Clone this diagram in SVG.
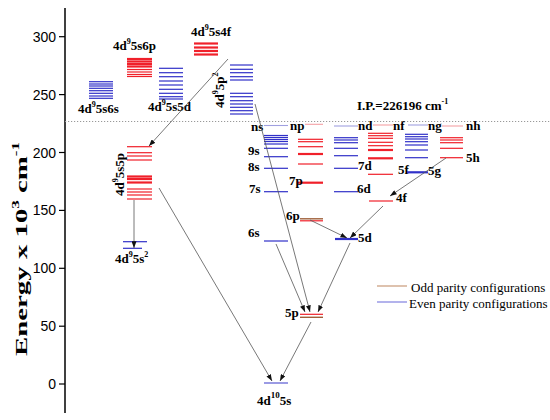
<svg xmlns="http://www.w3.org/2000/svg" width="550" height="420" viewBox="0 0 550 420">
<defs>
<marker id="ah" viewBox="0 0 8 6" refX="8" refY="3" markerWidth="7" markerHeight="5" markerUnits="userSpaceOnUse" orient="auto">
<path d="M0,0 L8,3 L0,6 Z" fill="#111"/>
</marker>
<style>
.lbl{font-family:"Liberation Serif",serif;font-weight:bold;font-size:13px;fill:#000}
.tick{font-family:"Liberation Sans",Arial,sans-serif;font-size:14px;fill:#000}
.leg{font-family:"Liberation Serif",serif;font-size:13px;fill:#000}
.r{stroke:#f0202a;stroke-width:1.2}
.rt{stroke:#f0202a;stroke-width:2.2}
.rl{stroke:#f4a0a4;stroke-width:1.1}
.b{stroke:#3030c8;stroke-width:1.2}
.bt{stroke:#3030c8;stroke-width:2.2}
.bl{stroke:#a0a0e0;stroke-width:1.1}
.br{stroke:#a0603a;stroke-width:1.4}
.con{stroke:#555;stroke-width:0.8;fill:none;marker-end:url(#ah)}
</style>
</defs>
<rect width="550" height="420" fill="#fff"/>

<g id="axis">
<line x1="65" y1="8" x2="65" y2="413" stroke="#000" stroke-width="1.5"/>
<g stroke="#000" stroke-width="1.2">
<line x1="59" y1="36.7" x2="65" y2="36.7"/><line x1="59" y1="94.6" x2="65" y2="94.6"/>
<line x1="59" y1="152.5" x2="65" y2="152.5"/><line x1="59" y1="210.4" x2="65" y2="210.4"/>
<line x1="59" y1="268.3" x2="65" y2="268.3"/><line x1="59" y1="326.2" x2="65" y2="326.2"/>
<line x1="59" y1="384" x2="65" y2="384"/>
</g>
<g class="tick" text-anchor="end">
<text x="56" y="41.7">300</text><text x="56" y="99.6">250</text><text x="56" y="157.5">200</text>
<text x="56" y="215.4">150</text><text x="56" y="273.3">100</text><text x="56" y="331.2">50</text>
<text x="56" y="389">0</text>
</g>
<text transform="translate(27,356) rotate(-90)" font-family="Liberation Serif,serif" font-weight="bold" font-size="17" textLength="214" lengthAdjust="spacingAndGlyphs">Energy x 10<tspan dy="-8" font-size="10">3</tspan><tspan dy="8"> cm</tspan><tspan dy="-8" font-size="10">-1</tspan></text>
</g>

<g id="ip">
<line x1="65" y1="121.5" x2="550" y2="121.5" stroke="#999" stroke-width="1" stroke-dasharray="1.2,1.8"/>
<text class="lbl" x="357" y="110" font-size="14">I.P.=226196 cm<tspan dy="-6" font-size="8">-1</tspan></text>
</g>

<g id="c4d9-5s6s">
<g class="b"><line x1="89" y1="81.7" x2="113" y2="81.7"/><line x1="89" y1="84" x2="113" y2="84"/><line x1="89" y1="86" x2="113" y2="86"/><line x1="89" y1="88.3" x2="113" y2="88.3"/><line x1="89" y1="90.7" x2="113" y2="90.7"/><line x1="89" y1="93.3" x2="113" y2="93.3"/><line x1="89" y1="96" x2="113" y2="96"/><line x1="89" y1="98.3" x2="113" y2="98.3"/></g>
<text class="lbl" x="78" y="113">4d<tspan dy="-6" font-size="8">9</tspan><tspan dy="6">5s6s</tspan></text>
</g>

<g id="c4d9-5s6p">
<g class="rt"><line x1="127" y1="59" x2="152" y2="59"/><line x1="127" y1="61.5" x2="152" y2="61.5"/><line x1="127" y1="64" x2="152" y2="64"/><line x1="127" y1="66.5" x2="152" y2="66.5"/></g>
<g class="r"><line x1="127" y1="69.5" x2="152" y2="69.5"/><line x1="127" y1="72" x2="152" y2="72"/><line x1="127" y1="74.5" x2="152" y2="74.5"/><line x1="127" y1="76.5" x2="152" y2="76.5"/></g>
<text class="lbl" x="113" y="50">4d<tspan dy="-6" font-size="8">9</tspan><tspan dy="6">5s6p</tspan></text>
</g>

<g id="c4d9-5s5d">
<g class="b"><line x1="159" y1="68.3" x2="183" y2="68.3"/><line x1="159" y1="72.7" x2="183" y2="72.7"/><line x1="159" y1="76.7" x2="183" y2="76.7"/><line x1="159" y1="81" x2="183" y2="81"/><line x1="159" y1="85" x2="183" y2="85"/><line x1="159" y1="89.3" x2="183" y2="89.3"/><line x1="159" y1="93.3" x2="183" y2="93.3"/><line x1="159" y1="96.7" x2="183" y2="96.7"/><line x1="159" y1="99" x2="183" y2="99"/></g>
<text class="lbl" x="148" y="111">4d<tspan dy="-6" font-size="8">9</tspan><tspan dy="6">5s5d</tspan></text>
</g>

<g id="c4d9-5s4f">
<g class="rt"><line x1="194" y1="43.5" x2="218" y2="43.5"/><line x1="194" y1="47.5" x2="218" y2="47.5"/><line x1="194" y1="51" x2="218" y2="51"/><line x1="194" y1="54.5" x2="218" y2="54.5"/></g>
<text class="lbl" x="191" y="36">4d<tspan dy="-6" font-size="8">9</tspan><tspan dy="6">5s4f</tspan></text>
</g>

<g id="c4d9-5p2">
<g class="b"><line x1="230" y1="65" x2="253" y2="65"/><line x1="230" y1="69.3" x2="253" y2="69.3"/><line x1="230" y1="72.7" x2="253" y2="72.7"/><line x1="230" y1="76.7" x2="253" y2="76.7"/><line x1="230" y1="80" x2="253" y2="80"/>
<line x1="230" y1="93.3" x2="253" y2="93.3"/><line x1="230" y1="96.7" x2="253" y2="96.7"/><line x1="230" y1="100.7" x2="253" y2="100.7"/><line x1="230" y1="104" x2="253" y2="104"/><line x1="230" y1="107.3" x2="253" y2="107.3"/><line x1="230" y1="110.7" x2="253" y2="110.7"/><line x1="230" y1="114" x2="253" y2="114"/></g>
<text class="lbl" transform="translate(224,108) rotate(-90)">4d<tspan dy="-6" font-size="8">9</tspan><tspan dy="6">5p</tspan><tspan dy="-6" font-size="8">2</tspan></text>
</g>

<g id="c4d9-5s5p">
<g class="r"><line x1="127" y1="146.7" x2="152" y2="146.7"/><line x1="127" y1="152.7" x2="152" y2="152.7"/><line x1="127" y1="156" x2="152" y2="156"/><line x1="127" y1="160" x2="152" y2="160"/></g>
<g class="rt"><line x1="127" y1="176.5" x2="152" y2="176.5"/><line x1="127" y1="179" x2="152" y2="179"/><line x1="127" y1="182.5" x2="152" y2="182.5"/></g>
<g class="r"><line x1="127" y1="189" x2="152" y2="189"/><line x1="127" y1="192" x2="152" y2="192"/><line x1="127" y1="195" x2="152" y2="195"/><line x1="127" y1="199" x2="152" y2="199"/></g>
<text class="lbl" transform="translate(124,196) rotate(-90)">4d<tspan dy="-6" font-size="8">9</tspan><tspan dy="6">5s5p</tspan></text>
</g>

<g id="c4d9-5s2">
<g class="b"><line x1="123" y1="241.7" x2="147" y2="241.7"/><line x1="123" y1="248.3" x2="142" y2="248.3"/></g>
<text class="lbl" x="115" y="263">4d<tspan dy="-6" font-size="8">9</tspan><tspan dy="6">5s</tspan><tspan dy="-6" font-size="8">2</tspan></text>
</g>

<g id="ground">
<line x1="264" y1="383" x2="288" y2="383" stroke="#7070d8" stroke-width="1.4"/>
<text class="lbl" x="257" y="405" font-size="15">4d<tspan dy="-7" font-size="9">10</tspan><tspan dy="7">5s</tspan></text>
</g>

<g id="ns">
<line class="bl" x1="264" y1="125.5" x2="288" y2="125.5"/>
<g class="b"><line x1="264" y1="135.5" x2="288" y2="135.5"/><line x1="264" y1="137.5" x2="288" y2="137.5"/><line x1="264" y1="139.5" x2="288" y2="139.5"/><line x1="264" y1="141.5" x2="288" y2="141.5"/><line x1="264" y1="144" x2="288" y2="144"/><line x1="264" y1="148.3" x2="288" y2="148.3"/><line x1="264" y1="156.7" x2="288" y2="156.7"/><line x1="264" y1="168.3" x2="288" y2="168.3"/><line x1="264" y1="191.7" x2="288" y2="191.7"/><line x1="264" y1="241" x2="288" y2="241"/></g>
<text class="lbl" x="251" y="131">ns</text>
<text class="lbl" x="248" y="155">9s</text>
<text class="lbl" x="248" y="171">8s</text>
<text class="lbl" x="249" y="193">7s</text>
<text class="lbl" x="248" y="237">6s</text>
</g>

<g id="np">
<line class="rl" x1="305" y1="124.3" x2="323" y2="124.3"/>
<g class="r"><line x1="298" y1="139.3" x2="323" y2="139.3"/><line x1="298" y1="141.7" x2="323" y2="141.7"/><line x1="298" y1="146.7" x2="323" y2="146.7"/><line x1="298" y1="164" x2="323" y2="164"/><line x1="300" y1="220.8" x2="323" y2="220.8"/><line x1="300" y1="314.3" x2="323" y2="314.3"/></g>
<g class="rt"><line x1="298" y1="154" x2="323" y2="154"/><line x1="298" y1="182.7" x2="323" y2="182.7"/></g>
<g class="br"><line x1="300" y1="218.8" x2="323" y2="218.8"/><line x1="300" y1="317.3" x2="323" y2="317.3"/></g>
<text class="lbl" x="290" y="130">np</text>
<text class="lbl" x="289" y="185">7p</text>
<text class="lbl" x="286" y="220">6p</text>
<text class="lbl" x="285" y="317">5p</text>
</g>

<g id="nd">
<line class="bl" x1="334" y1="126" x2="358" y2="126"/>
<g class="b"><line x1="334" y1="137.7" x2="358" y2="137.7"/><line x1="334" y1="140" x2="358" y2="140"/><line x1="334" y1="142.7" x2="358" y2="142.7"/><line x1="334" y1="148.3" x2="358" y2="148.3"/><line x1="334" y1="155.7" x2="358" y2="155.7"/><line x1="334" y1="168.3" x2="358" y2="168.3"/><line x1="334" y1="191.7" x2="358" y2="191.7"/></g>
<line class="bt" x1="335" y1="239" x2="358" y2="239"/>
<text class="lbl" x="358" y="130">nd</text>
<text class="lbl" x="358" y="170">7d</text>
<text class="lbl" x="357" y="193">6d</text>
<text class="lbl" x="358" y="242">5d</text>
</g>

<g id="nf">
<line class="rl" x1="373" y1="125" x2="393" y2="125"/>
<g class="r"><line x1="368" y1="133.3" x2="393" y2="133.3"/><line x1="368" y1="135.7" x2="393" y2="135.7"/><line x1="368" y1="138.3" x2="393" y2="138.3"/><line x1="368" y1="142.3" x2="393" y2="142.3"/><line x1="368" y1="145.7" x2="393" y2="145.7"/><line x1="368" y1="174.3" x2="393" y2="174.3"/><line x1="369" y1="201" x2="393" y2="201"/></g>
<g class="rt"><line x1="368" y1="150" x2="393" y2="150"/><line x1="368" y1="158.3" x2="393" y2="158.3"/></g>
<text class="lbl" x="393" y="130">nf</text>
<text class="lbl" x="398" y="174">5f</text>
<text class="lbl" x="396" y="202">4f</text>
</g>

<g id="ng">
<line class="bl" x1="408" y1="125" x2="428" y2="125"/>
<g class="b"><line x1="405" y1="134.3" x2="428" y2="134.3"/><line x1="405" y1="136.7" x2="428" y2="136.7"/><line x1="405" y1="139" x2="428" y2="139"/><line x1="405" y1="141.7" x2="428" y2="141.7"/><line x1="405" y1="145" x2="428" y2="145"/><line x1="405" y1="150" x2="428" y2="150"/><line x1="405" y1="157.7" x2="428" y2="157.7"/></g>
<line class="bt" x1="407" y1="172.3" x2="428" y2="172.3"/>
<text class="lbl" x="428" y="130">ng</text>
<text class="lbl" x="428" y="175">5g</text>
</g>

<g id="nh">
<line class="rl" x1="442" y1="126" x2="463" y2="126"/>
<g class="r"><line x1="440" y1="137.7" x2="463" y2="137.7"/><line x1="440" y1="140" x2="463" y2="140"/><line x1="440" y1="142.7" x2="463" y2="142.7"/><line x1="440" y1="148.3" x2="463" y2="148.3"/><line x1="440" y1="157.7" x2="463" y2="157.7"/></g>
<text class="lbl" x="466" y="130">nh</text>
<text class="lbl" x="466" y="162">5h</text>
</g>

<g id="connectors">
<line class="con" x1="228" y1="59" x2="149" y2="146"/>
<line class="con" x1="134" y1="200" x2="134" y2="248"/>
<line class="con" x1="159" y1="188" x2="272" y2="381"/>
<line class="con" x1="311" y1="322" x2="280" y2="381"/>
<line class="con" x1="255" y1="104" x2="310" y2="312"/>
<line class="con" x1="276" y1="244" x2="305" y2="312"/>
<line class="con" x1="350" y1="243" x2="318" y2="312"/>
<line class="con" x1="310" y1="220" x2="347" y2="238"/>
<line class="con" x1="383" y1="206" x2="350" y2="238"/>
<line class="con" x1="446" y1="158" x2="390" y2="196"/>
</g>

<g id="legend">
<line x1="377" y1="286" x2="407" y2="286" stroke="#c89a78" stroke-width="1.2"/>
<text class="leg" x="411" y="292">Odd parity configurations</text>
<line x1="377" y1="302" x2="407" y2="302" stroke="#8080e0" stroke-width="1.2"/>
<text class="leg" x="409" y="308">Even parity configurations</text>
</g>
</svg>
